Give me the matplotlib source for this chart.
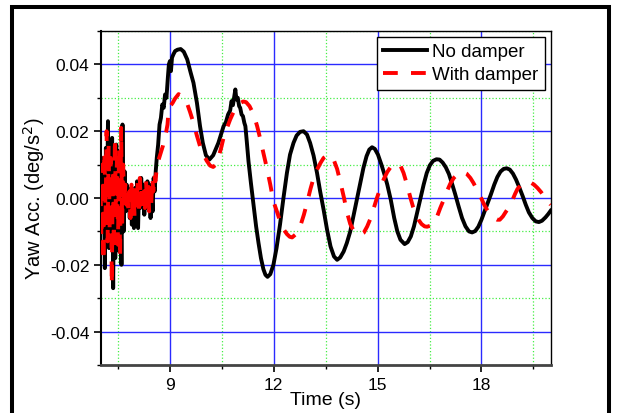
import matplotlib
matplotlib.use("Agg")
import matplotlib.pyplot as plt
from matplotlib.patches import Rectangle
from matplotlib.ticker import MultipleLocator

plt.rcParams["font.family"] = ["Liberation Sans", "DejaVu Sans"]

# No damper: time (s) and yaw acceleration (deg/s^2)
t_no = [
    7.00, 7.03, 7.06, 7.09, 7.12, 7.15, 7.18, 7.21, 7.24, 7.27, 7.30, 7.33, 7.36, 7.39, 7.42, 7.45,
    7.48, 7.51, 7.54, 7.57, 7.60, 7.63, 7.66, 7.69, 7.72, 7.75, 7.78, 7.81, 7.84, 7.87, 7.90, 7.93,
    7.96, 7.99, 8.02, 8.05, 8.08, 8.11, 8.14, 8.17, 8.20, 8.23, 8.26, 8.29, 8.32, 8.35, 8.38, 8.41,
    8.44, 8.47, 8.50, 8.53, 8.56, 8.59, 8.62, 8.66, 8.70, 8.74, 8.78, 8.82, 8.86, 8.90, 8.94, 8.97,
    9.00, 9.03, 9.06, 9.10, 9.15, 9.22, 9.31, 9.40, 9.50, 9.60, 9.68, 9.78, 9.87, 9.95, 10.04, 10.14,
    10.25, 10.33, 10.40, 10.48, 10.55, 10.62, 10.68, 10.74, 10.78, 10.82, 10.86, 10.89, 10.92, 10.96,
    11.00, 11.03, 11.07, 11.11, 11.15, 11.18, 11.22, 11.27, 11.34, 11.42, 11.49, 11.56, 11.63, 11.70,
    11.76, 11.82, 11.90, 11.99, 12.08, 12.18, 12.28, 12.38, 12.47, 12.57, 12.66, 12.76, 12.86, 12.96,
    13.05, 13.15, 13.25, 13.34, 13.44, 13.54, 13.64, 13.74, 13.83, 13.92, 14.02, 14.11, 14.21, 14.30,
    14.40, 14.50, 14.59, 14.68, 14.76, 14.84, 14.92, 15.01, 15.11, 15.20, 15.28, 15.38, 15.48, 15.57,
    15.66, 15.78, 15.87, 15.96, 16.05, 16.14, 16.24, 16.33, 16.42, 16.51, 16.60, 16.70, 16.79, 16.88,
    16.97, 17.06, 17.15, 17.24, 17.34, 17.44, 17.54, 17.64, 17.73, 17.82, 17.91, 18.00, 18.09, 18.18,
    18.27, 18.37, 18.46, 18.55, 18.64, 18.73, 18.82, 18.91, 19.00, 19.10, 19.19, 19.28, 19.37, 19.47,
    19.57, 19.66, 19.75, 19.85, 19.93, 20.00,
]
acc_no = [
    0.000, 0.012, -0.010, 0.008, -0.021, 0.015, -0.008, 0.023, -0.015, 0.010, -0.012, 0.018, -0.027, 0.012, -0.018, 0.016,
    -0.006, 0.014, -0.016, 0.009, -0.020, 0.022, -0.010, 0.008, -0.004, 0.004, -0.002, 0.002, -0.006, 0.003, -0.008, 0.002,
    -0.009, 0.003, -0.004, 0.005, -0.009, 0.004, -0.003, 0.006, -0.002, 0.004, -0.005, 0.003, -0.003, 0.005, -0.002, 0.004,
    -0.006, 0.002, -0.004, 0.006, 0.002, 0.008, 0.012, 0.016, 0.022, 0.024, 0.028, 0.027, 0.031, 0.030, 0.036, 0.040,
    0.041, 0.038, 0.042, 0.043, 0.0440, 0.0444, 0.0446, 0.0438, 0.0415, 0.0375, 0.0345, 0.0285, 0.0215, 0.0165, 0.0128, 0.0115,
    0.0128, 0.0148, 0.0165, 0.0192, 0.0215, 0.0228, 0.0250, 0.0262, 0.0290, 0.0278, 0.0305, 0.0325, 0.0295, 0.0300,
    0.0275, 0.0270, 0.0250, 0.0245, 0.0225, 0.0215, 0.0170, 0.0110, 0.0045, -0.0023, -0.0085, -0.0135, -0.0180, -0.0213,
    -0.0230, -0.0236, -0.0228, -0.0200, -0.0150, -0.0080, 0.0000, 0.0075, 0.0130, 0.0165, 0.0187, 0.0198, 0.0200, 0.0190,
    0.0165, 0.0127, 0.0075, 0.0020, -0.0035, -0.0095, -0.0145, -0.0175, -0.0185, -0.0178, -0.0160, -0.0135, -0.0100, -0.0055,
    -0.0005, 0.0045, 0.0090, 0.0125, 0.0145, 0.0152, 0.0147, 0.0130, 0.0100, 0.0070, 0.0040, -0.0005, -0.0060, -0.0100,
    -0.0125, -0.0138, -0.0132, -0.0115, -0.0085, -0.0045, 0.0000, 0.0040, 0.0075, 0.0098, 0.0111, 0.0116, 0.0115, 0.0106,
    0.0092, 0.0072, 0.0043, 0.0012, -0.0025, -0.0060, -0.0085, -0.0100, -0.0103, -0.0099, -0.0086, -0.0065, -0.0040, -0.0015,
    0.0010, 0.0040, 0.0063, 0.0079, 0.0087, 0.0089, 0.0085, 0.0073, 0.0055, 0.0030, 0.0006, -0.0020, -0.0043, -0.0060,
    -0.0070, -0.0072, -0.0068, -0.0058, -0.0048, -0.0038,
]

# With damper
t_with = [
    7.00, 7.02, 7.05, 7.08, 7.11, 7.14, 7.17, 7.20, 7.23, 7.26, 7.29, 7.32, 7.35, 7.38, 7.41, 7.44,
    7.47, 7.50, 7.53, 7.56, 7.59, 7.62, 7.65, 7.68, 7.71, 7.74, 7.77, 7.80, 7.83, 7.86, 7.89, 7.92,
    7.95, 7.98, 8.01, 8.04, 8.07, 8.10, 8.13, 8.16, 8.19, 8.22, 8.25, 8.28, 8.31, 8.34, 8.37, 8.40,
    8.43, 8.46, 8.49, 8.52, 8.55, 8.58, 8.62, 8.66, 8.72, 8.80, 8.85, 8.89, 8.93, 8.96, 9.01, 9.08,
    9.15, 9.25, 9.35, 9.42, 9.49, 9.58, 9.68, 9.77, 9.87, 9.97, 10.06, 10.16, 10.25, 10.33, 10.40, 10.48,
    10.56, 10.65, 10.74, 10.84, 10.94, 11.04, 11.12, 11.20, 11.30, 11.42, 11.52, 11.61, 11.70, 11.80,
    11.90, 11.99, 12.09, 12.19, 12.28, 12.38, 12.46, 12.53, 12.62, 12.70, 12.77, 12.87, 12.96, 13.06,
    13.15, 13.25, 13.35, 13.44, 13.54, 13.63, 13.73, 13.83, 13.93, 14.03, 14.12, 14.21, 14.31, 14.41,
    14.50, 14.60, 14.70, 14.80, 14.89, 14.98, 15.08, 15.18, 15.28, 15.38, 15.48, 15.57, 15.66, 15.75,
    15.85, 15.95, 16.02, 16.09, 16.18, 16.27, 16.36, 16.43, 16.52, 16.62, 16.72, 16.81, 16.91, 17.01,
    17.10, 17.20, 17.30, 17.39, 17.47, 17.57, 17.68, 17.77, 17.87, 17.97, 18.07, 18.16, 18.26, 18.36,
    18.45, 18.53, 18.62, 18.70, 18.78, 18.88, 18.97, 19.04, 19.13, 19.22, 19.31, 19.41, 19.52, 19.62,
    19.72, 19.81, 19.90, 20.00,
]
acc_with = [
    0.002, -0.012, 0.010, -0.019, 0.014, -0.006, 0.020, -0.013, 0.016, -0.010, 0.012, -0.026, 0.008, -0.016, 0.018, -0.004,
    0.012, -0.014, 0.015, -0.018, 0.021, -0.008, 0.010, -0.003, 0.004, -0.002, 0.003, -0.004, 0.002, -0.006, 0.004, -0.005,
    0.003, -0.006, 0.004, -0.003, 0.005, -0.005, 0.006, -0.002, 0.004, -0.004, 0.002, -0.003, 0.005, -0.002, 0.004, -0.004,
    0.003, -0.002, 0.006, 0.002, 0.007, 0.005, 0.009, 0.011, 0.013, 0.0157, 0.018, 0.0197, 0.022, 0.026, 0.0275, 0.0285,
    0.0298, 0.0311, 0.0305, 0.0295, 0.0285, 0.0258, 0.0225, 0.0190, 0.0155, 0.0130, 0.0112, 0.0097, 0.0093, 0.0100, 0.0120, 0.0150,
    0.0185, 0.0210, 0.0235, 0.0258, 0.0275, 0.0285, 0.0289, 0.0287, 0.0275, 0.0250, 0.0215, 0.0177, 0.0135, 0.0090,
    0.0040, -0.0010, -0.0040, -0.0072, -0.0093, -0.0108, -0.0116, -0.0118, -0.0110, -0.0097, -0.0083, -0.0050, -0.0015, 0.0027,
    0.0060, 0.0085, 0.0105, 0.0120, 0.0127, 0.0128, 0.0115, 0.0087, 0.0045, 0.0000, -0.0045, -0.0078, -0.0098, -0.0108,
    -0.0110, -0.0104, -0.0085, -0.0060, -0.0030, 0.0000, 0.0030, 0.0057, 0.0078, 0.0093, 0.0101, 0.0103, 0.0097, 0.0075,
    0.0040, 0.0000, -0.0025, -0.0045, -0.0065, -0.0078, -0.0085, -0.0086, -0.0083, -0.0075, -0.0055, -0.0030, -0.0005, 0.0022,
    0.0043, 0.0060, 0.0070, 0.0076, 0.0078, 0.0073, 0.0060, 0.0045, 0.0025, 0.0005, -0.0018, -0.0035, -0.0050, -0.0060,
    -0.0065, -0.0065, -0.0055, -0.0042, -0.0030, -0.0010, 0.0012, 0.0027, 0.0038, 0.0046, 0.0049, 0.0047, 0.0040, 0.0030,
    0.0018, 0.0005, -0.0008, -0.0020,
]

x_ticks = [9, 12, 15, 18]
y_ticks = [-0.04, -0.02, 0.00, 0.02, 0.04]
y_tick_labels = ["-0.04", "-0.02", "0.00", "0.02", "0.04"]

fig = plt.figure(figsize=(6.17, 4.14), dpi=100)
ax = fig.add_axes([0.1632, 0.1159, 0.7293, 0.8068])

ax.plot(t_no, acc_no, color="black", lw=2.8, label="No damper", zorder=3)
ax.plot(t_with, acc_with, color="#ff0000", lw=2.8, linestyle=(0, (3.8, 3.4)),
        label="With damper", zorder=4)

ax.set_xlim(7, 20)
ax.set_ylim(-0.05, 0.05)
ax.set_xticks(x_ticks)
ax.set_yticks(y_ticks)
ax.set_yticklabels(y_tick_labels)
ax.xaxis.set_minor_locator(MultipleLocator(1.5))
ax.yaxis.set_minor_locator(MultipleLocator(0.01))

ax.set_axisbelow(True)
ax.grid(True, which="major", color="#2a2aff", lw=1.0, linestyle="-")
ax.grid(True, which="minor", color="#44ee44", lw=0.9, linestyle=":")

ax.tick_params(which="major", direction="out", length=5, width=1.2, labelsize=12.5,
               top=False, right=False)
ax.tick_params(which="minor", direction="out", length=3, width=1.0, top=False, right=False)
ax.tick_params(axis="x", pad=3.5)
ax.tick_params(axis="y", pad=3)

ax.spines["bottom"].set_color("#444444")
ax.spines["bottom"].set_linewidth(2.0)
ax.spines["left"].set_linewidth(1.5)
ax.spines["top"].set_linewidth(1.0)
ax.spines["right"].set_linewidth(1.0)

ax.set_xlabel("Time (s)", fontsize=14)
ax.set_ylabel("Yaw Acc. (deg/s$^2$)", fontsize=14.5)
ax.xaxis.set_label_coords(0.5, -0.078)
ax.yaxis.set_label_coords(-0.12, 0.5)

leg = ax.legend(loc="upper right", fontsize=13.5, fancybox=False, framealpha=1,
                edgecolor="black", handlelength=2.3, handletextpad=0.3,
                labelspacing=0.3, borderpad=0.35, borderaxespad=0.3)
leg.get_frame().set_linewidth(1.0)

# black frame around the whole picture
fig.patches.append(Rectangle((0.0194, -0.03), 0.967, 1.0114, transform=fig.transFigure,
                             fill=False, edgecolor="black", lw=2.9))

fig.savefig("out.png", dpi=100)
